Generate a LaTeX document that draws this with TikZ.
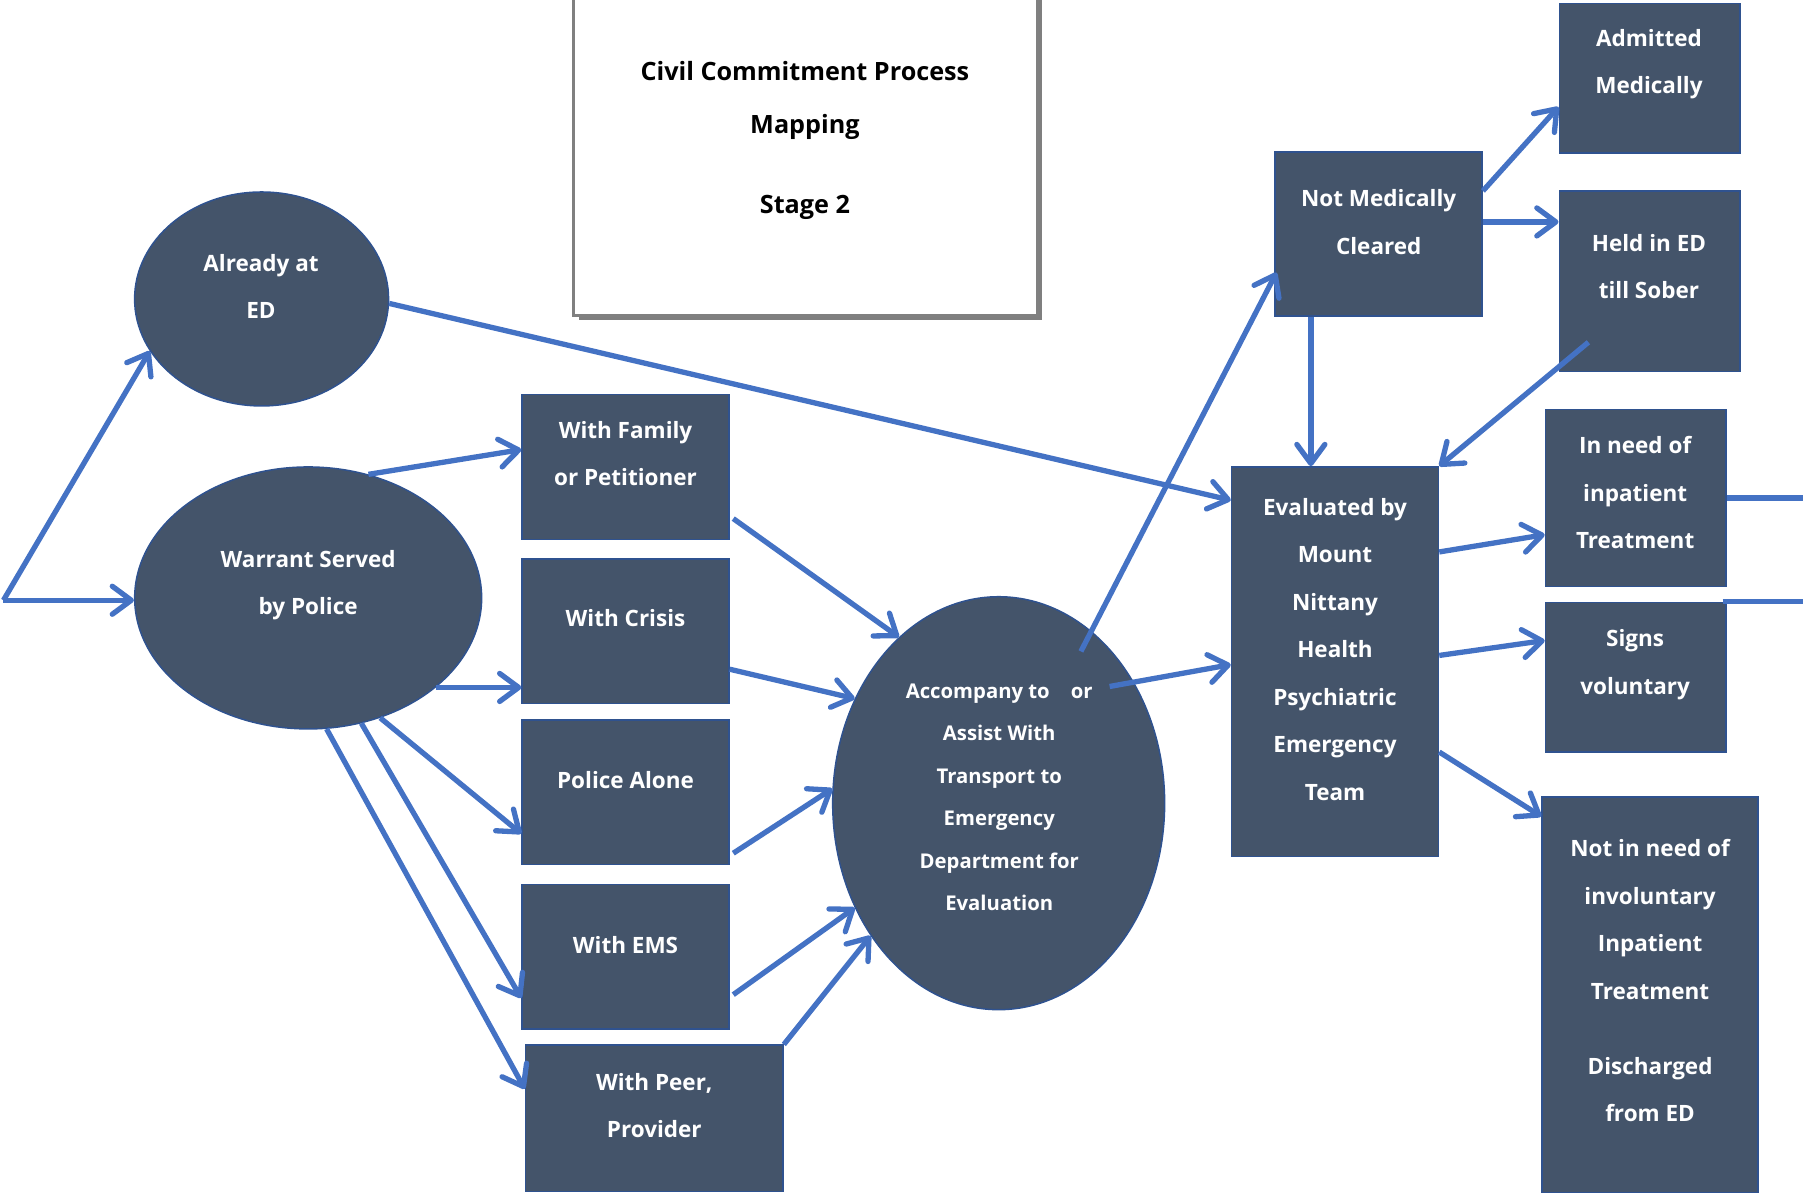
\documentclass[tikz,border=0pt]{standalone}
\usepackage{fontspec}
\setmainfont{Open Sans}
\usetikzlibrary{arrows.meta,shapes.geometric,fit,calc,shadows}
\definecolor{slate}{HTML}{44546A}
\definecolor{edgeblue}{HTML}{2F528F}
\definecolor{linkblue}{HTML}{4472C4}
\definecolor{framegray}{HTML}{808080}
\tikzset{
  stepbox/.style={draw=edgeblue, line width=1.5pt, fill=slate, inner sep=0pt},
  oval/.style={ellipse, draw=edgeblue, line width=1.5pt, fill=slate, inner sep=0pt},
  lbl/.style={text=white, font=\bfseries\fontsize{22.5}{47.5}\selectfont, align=center, inner sep=0pt},
  smalllbl/.style={text=white, font=\bfseries\fontsize{20.3}{42.5}\selectfont, align=center, inner sep=0pt},
  titlelbl/.style={text=black, font=\bfseries\fontsize{25.2}{53}\selectfont, align=center, inner sep=0pt},
  link/.style={draw=linkblue, line width=5.3pt, -{Straight Barb[length=19pt,width=28pt,round]}},
  plainlink/.style={draw=linkblue, line width=5.3pt},
}
\begin{document}
\begin{tikzpicture}[x=1.15pt, y=-1.15pt]
\useasboundingbox (0,0) rectangle (1568,1039);

% title card
\node[draw=framegray, line width=3pt, fill=white, inner sep=0pt,
      drop shadow={shadow xshift=5pt, shadow yshift=-5pt, opacity=0.5, fill=black},
      fit={(499,-20) (902,274)}] (title) {};
\node[titlelbl] (titletext) at (700,122) {Civil Commitment Process\\Mapping\\[27.6pt]Stage 2};

% entry points
\coordinate (start) at (3,522);
\node[oval, minimum width=254pt, minimum height=214pt] (already) at (227.5,260) {};
\node[lbl] (alreadytext) at (227,249) {Already at\\ED};
\node[oval, minimum width=347pt, minimum height=262pt] (warrant) at (268,520) {};
\node[lbl] (warranttext) at (268,509) {Warrant Served\\by Police};

% modes of transport
\node[stepbox, fit={(454,343) (634,469)}] (family) {};
\node[lbl] (familytext) at (544,394.5) {With Family\\or Petitioner};
\node[stepbox, fit={(454,486) (634,612)}] (crisis) {};
\node[lbl] (crisistext) at (544,537.5) {With Crisis};
\node[stepbox, fit={(454,626) (634,752)}] (police) {};
\node[lbl] (policetext) at (544,678.5) {Police Alone};
\node[stepbox, fit={(454,769) (634,895)}] (ems) {};
\node[lbl] (emstext) at (544,821.5) {With EMS};
\node[stepbox, fit={(457,909) (681,1036)}] (peer) {};
\node[lbl] (peertext) at (569,961.5) {With Peer,\\Provider};

% transport to the ED
\node[oval, minimum width=332pt, minimum height=413pt] (accompany) at (868.5,698.5) {};
\node[smalllbl] (accompanytext) at (869,693.5) {Accompany to\ \ \ \ or\\Assist With\\Transport to\\Emergency\\Department for\\Evaluation};

% medical clearance
\node[stepbox, fit={(1109,132) (1289,275)}] (notmed) {};
\node[lbl] (notmedtext) at (1199,193) {Not Medically\\Cleared};
\node[stepbox, fit={(1356,3) (1513,133)}] (admitted) {};
\node[lbl] (admittedtext) at (1434,56) {Admitted\\Medically};
\node[stepbox, fit={(1356,166) (1513,323)}] (held) {};
\node[lbl] (heldtext) at (1434,232) {Held in ED\\till Sober};

% psychiatric evaluation and outcomes
\node[stepbox, fit={(1071,406) (1251,745)}] (eval) {};
\node[lbl] (evaltext) at (1161,564.5) {Evaluated by\\Mount\\Nittany\\Health\\Psychiatric\\Emergency\\Team};
\node[stepbox, fit={(1344,356) (1501,510)}] (inneed) {};
\node[lbl] (inneedtext) at (1422,428.5) {In need of\\inpatient\\Treatment};
\node[stepbox, fit={(1344,524) (1501,654)}] (signs) {};
\node[lbl] (signstext) at (1422,578) {Signs\\voluntary};
\node[stepbox, fit={(1341,693) (1529,1037)}] (notneed) {};
\node[lbl] (notneedtext) at (1435,853) {Not in need of\\involuntary\\Inpatient\\Treatment\\[27.6pt]Discharged\\from ED};

\coordinate (rightA) at (1568,433);
\coordinate (rightB) at (1568,523);

% connectors
\draw[link] (start) -- (already.205);
\draw[link] (start) -- (start -| warrant.west);
\draw[link] (already.-2) -- (eval.west |- 0,435);

\draw[link] (warrant.64) -- (family.west |- 0,391);
\draw[link] (warrant.-35) -- (crisis.west |- warrant.-35);
\draw[link] (warrant.-59) -- (police.west |- 0,725);
\draw[link] (warrant.-67.5) -- (ems.west |- 0,868);
\draw[link] (warrant.-82) -- (peer.west |- 0,947);

\draw[link] ([xshift=3.5pt]family.east |- 0,451) -- (accompany.121);
\draw[link] (crisis.east |- 0,582) -- (accompany.144);
\draw[link] ([xshift=3.5pt]police.east |- 0,742) -- (accompany.175);
\draw[link] ([xshift=3.5pt]ems.east |- 0,865) -- (accompany.216);
\draw[link] (peer.north east) -- (accompany.226.5);

\draw[link] ([shift={(71.5,-132)}]accompany.center) -- ([xshift=2pt]notmed.west |- 0,237);
\draw[link] ([shift={(96.5,-101.5)}]accompany.center) -- (eval.west |- 0,578);

\draw[link] (notmed.east |- 0,166) -- (admitted.west |- 0,93);
\draw[link] (notmed.east |- 0,193) -- (held.west |- 0,193);
\draw[link] (notmed.south -| 1140,0) -- (eval.north -| 1140,0);
\draw[link] ([shift={(26,-26)}]held.south west) -- (eval.north east);

\draw[link] (eval.east |- 0,480) -- (inneed.west |- 0,465);
\draw[link] (eval.east |- 0,570) -- (signs.west |- 0,557);
\draw[link] (eval.east |- 0,654) -- (notneed.west |- 0,710);

\draw[plainlink] (inneed.east |- rightA) -- (rightA);
\draw[plainlink] ([xshift=-4pt]signs.north east |- rightB) -- (rightB);
\end{tikzpicture}
\end{document}
